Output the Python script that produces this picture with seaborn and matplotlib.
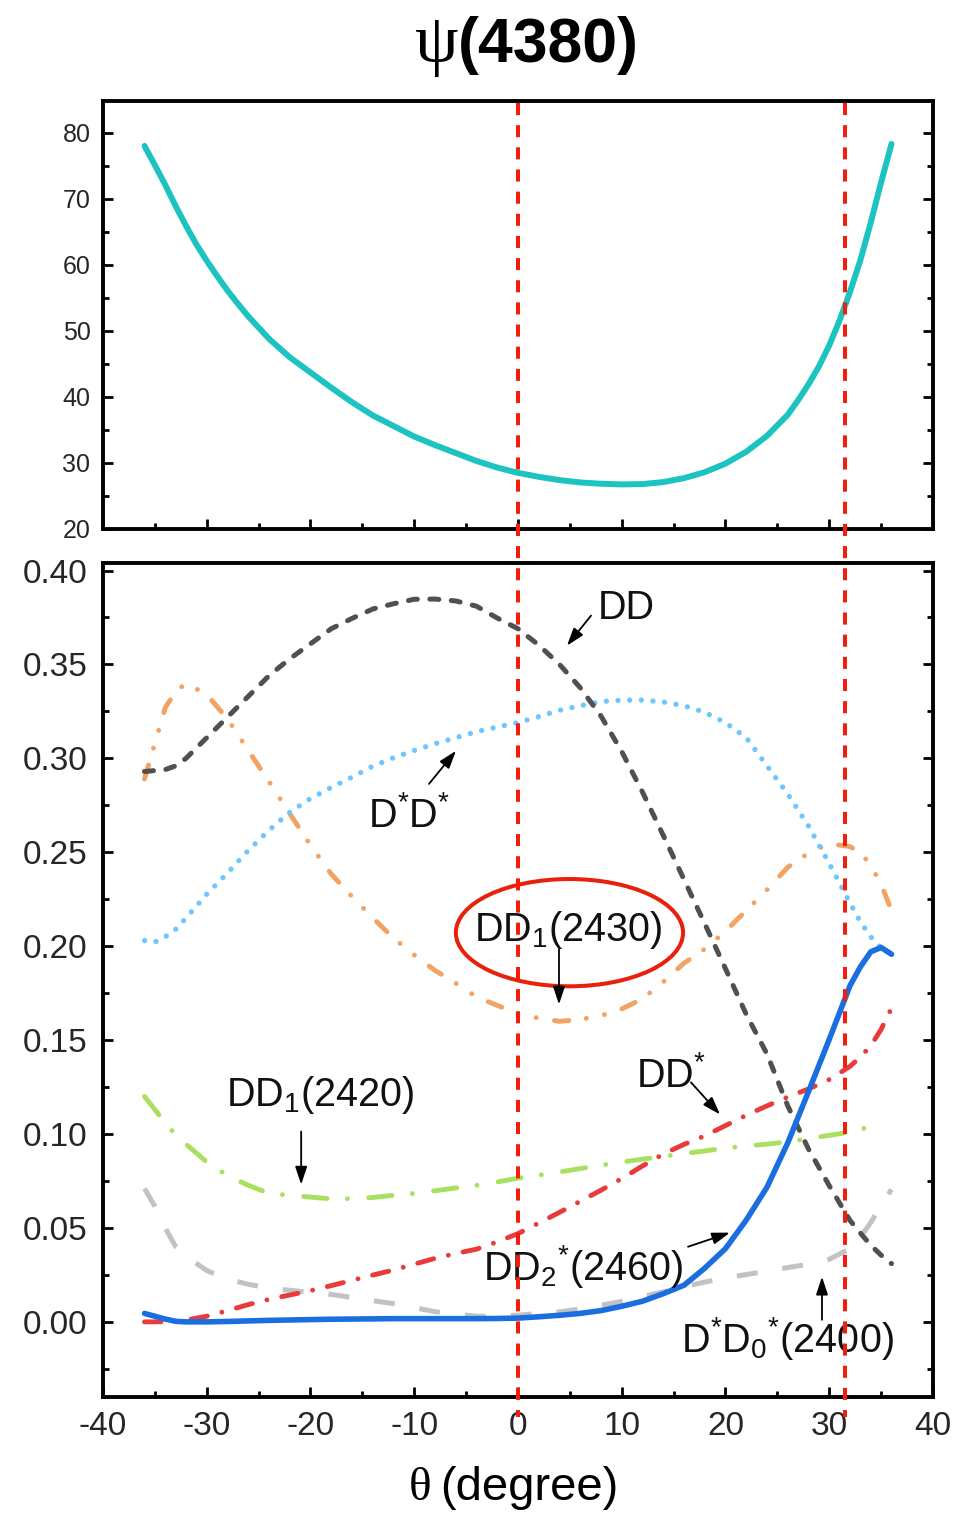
import numpy as np
import pandas as pd
import matplotlib
matplotlib.use("Agg")
import matplotlib.pyplot as plt
import seaborn as sns
from matplotlib.lines import Line2D
from matplotlib.patches import Ellipse
from matplotlib import transforms
from matplotlib.ticker import MultipleLocator, FormatStrFormatter

# ---------------- data ----------------
theta_top = [-36, -35, -34, -33, -32, -31, -30, -29, -28, -27, -26, -24, -22, -20, -18,
             -16, -14, -12, -10, -8, -6, -4, -2, 0, 2, 4, 6, 8, 10, 12, 14, 16, 18, 20,
             22, 24, 26, 27, 28, 29, 30, 31, 32, 33, 34, 35, 36]
top_curve = [78.0, 75.1, 72.1, 68.9, 65.9, 63.1, 60.6, 58.3, 56.1, 54.1, 52.2, 48.8,
             46.0, 43.7, 41.4, 39.2, 37.2, 35.6, 34.0, 32.7, 31.5, 30.3, 29.3, 28.5,
             27.9, 27.4, 27.05, 26.85, 26.75, 26.8, 27.1, 27.7, 28.6, 29.9, 31.7, 34.1,
             37.3, 39.5, 41.9, 44.6, 47.8, 51.6, 55.9, 60.7, 66.4, 72.5, 78.3]

theta = [-36, -35, -34, -33, -32, -30, -28, -26, -24, -22, -20, -18, -16, -14, -12,
         -10, -8, -6, -4, -2, 0, 2, 4, 6, 8, 10, 12, 14, 16, 18, 20, 22, 24, 26, 28,
         30, 32, 33, 34, 35, 36]

br_DD = [0.293, 0.2935, 0.294, 0.296, 0.300, 0.311, 0.322, 0.333, 0.344, 0.353, 0.361,
         0.369, 0.3745, 0.3795, 0.3823, 0.3847, 0.3848, 0.3838, 0.381, 0.3747, 0.369,
         0.3603, 0.350, 0.3376, 0.3225, 0.3036, 0.282, 0.259, 0.2355, 0.212, 0.188,
         0.1637, 0.1426, 0.115, 0.092, 0.0725, 0.054, 0.0473, 0.0408, 0.0355, 0.031]

br_DsDs = [0.203, 0.2022, 0.205, 0.209, 0.215, 0.2277, 0.239, 0.251, 0.2617, 0.2713,
           0.2786, 0.2845, 0.290, 0.2958, 0.3003, 0.3042, 0.3078, 0.311, 0.3142, 0.3167,
           0.319, 0.3222, 0.3256, 0.328, 0.3302, 0.331, 0.331, 0.330, 0.328, 0.3245, 0.319,
           0.311, 0.296, 0.281, 0.264, 0.244, 0.223, 0.213, 0.205, 0.199, 0.196]

br_DD1_2430 = [0.289, 0.308, 0.327, 0.3355, 0.340, 0.334, 0.321, 0.3042, 0.2876, 0.2706,
               0.2537, 0.2384, 0.2264, 0.2151, 0.2043, 0.1953, 0.1871, 0.1803, 0.173,
               0.1685, 0.164, 0.1617, 0.160, 0.161, 0.163, 0.1666, 0.172, 0.181, 0.191,
               0.1985, 0.208, 0.219, 0.230, 0.242, 0.2496, 0.2546, 0.253, 0.250, 0.243,
               0.233, 0.219]

br_DD1_2420 = [0.120, 0.113, 0.106, 0.0995, 0.0946, 0.0851, 0.0779, 0.0727, 0.0684,
               0.0674, 0.0664, 0.0655, 0.0656, 0.0662, 0.0674, 0.0684, 0.0698, 0.0713,
               0.0727, 0.0745, 0.0765, 0.0781, 0.0798, 0.0816, 0.0834, 0.0851, 0.0866,
               0.0881, 0.0896, 0.091, 0.0925, 0.0936, 0.0946, 0.0959, 0.0976, 0.0993,
               0.1010, 0.1025, 0.104, 0.1054, np.nan]

br_DDs = [0.000, 0.000, 0.0001, 0.0003, 0.001, 0.003, 0.006, 0.0092, 0.012, 0.0143,
          0.0166, 0.0193, 0.0221, 0.0249, 0.0276, 0.0307, 0.0338, 0.0364, 0.0387, 0.0426,
          0.047, 0.0526, 0.0583, 0.0642, 0.0701, 0.0763, 0.083, 0.0893, 0.0945, 0.099,
          0.1045, 0.110, 0.115, 0.1197, 0.124, 0.129, 0.136, 0.141, 0.147, 0.1557, 0.167]

br_DsD0s = [0.071, 0.0615, 0.050, 0.040, 0.035, 0.0273, 0.0228, 0.020, 0.018, 0.0168,
            0.0157, 0.0146, 0.013, 0.0113, 0.0097, 0.0076, 0.0054, 0.0042, 0.003, 0.003,
            0.0036, 0.0045, 0.0053, 0.0069, 0.0088, 0.0109, 0.0135, 0.016, 0.0187,
            0.0212, 0.0234, 0.0252, 0.027, 0.0289, 0.0307, 0.0333, 0.039, 0.045, 0.0529,
            0.062, 0.0705]

br_DD2s = [0.0045, 0.003, 0.0015, 0.0003, 0.0, 0.0, 0.0002, 0.0005, 0.0008, 0.001,
           0.0012, 0.0014, 0.0015, 0.0016, 0.0017, 0.0017, 0.0017, 0.0017, 0.0017, 0.0018,
           0.002, 0.0027, 0.0035, 0.0045, 0.006, 0.0083, 0.011, 0.015, 0.0195, 0.0286,
           0.039, 0.0542, 0.0717, 0.0953, 0.1226, 0.1504, 0.179, 0.189, 0.197, 0.1993,
           0.1957]

boundaries = [0.0, 31.5]          # red dashed vertical lines
title_psi = "ψ"
title_rest = "(4380)"
xlabel_sym = "θ"
xlabel_rest = "(degree)"

top_yticks = [20, 30, 40, 50, 60, 70, 80]
bot_yticks = [0.00, 0.05, 0.10, 0.15, 0.20, 0.25, 0.30, 0.35, 0.40]
xticks = [-40, -30, -20, -10, 0, 10, 20, 30, 40]

# ---------------- style ----------------
sns.set_theme(style="ticks")
plt.rcParams["font.family"] = ["Liberation Sans", "DejaVu Sans"]
plt.rcParams["axes.unicode_minus"] = False
plt.rcParams["mathtext.fontset"] = "custom"
plt.rcParams["mathtext.rm"] = "Liberation Sans"
plt.rcParams["mathtext.it"] = "Liberation Sans:italic"
plt.rcParams["mathtext.bf"] = "Liberation Sans:bold"

W, H = 954, 1513
fig = plt.figure(figsize=(W / 100, H / 100), dpi=100)
ax1 = fig.add_axes([103 / W, 1 - 529 / H, 830 / W, 428 / H])
ax2 = fig.add_axes([103 / W, 1 - 1397 / H, 830 / W, 834 / H])


def draw(ax, x, y, color, lw, dashes=None, cap="butt", z=3):
    df = pd.DataFrame({"theta": x, "val": y}).dropna()
    sns.lineplot(data=df, x="theta", y="val", ax=ax, color=color, linewidth=lw,
                 estimator=None, sort=False, legend=False, zorder=z)
    line = ax.lines[-1]
    line.set_linewidth(lw)
    if dashes is not None:
        line.set_dashes(dashes)
    line.set_dash_capstyle(cap)
    line.set_solid_capstyle("round")
    line.set_solid_joinstyle("round")
    return line


# top panel
draw(ax1, theta_top, top_curve, "#1CC3C0", 4.3)

# bottom panel
draw(ax2, theta, br_DsD0s, "#C2C2C2", 3.6, dashes=(4.2, 5.0), cap="butt")
draw(ax2, theta, br_DD1_2420, "#A9E060", 3.5, dashes=(4.8, 4.2, 0.01, 4.4), cap="round")
draw(ax2, theta, br_DDs, "#EA3B3B", 3.5, dashes=(3.4, 3.1, 0.01, 3.1), cap="round")
draw(ax2, theta, br_DD1_2430, "#F2A263", 3.5,
     dashes=(3.0, 3.6, 0.01, 3.8, 0.01, 3.8), cap="round")
draw(ax2, theta, br_DsDs, "#6EC6FF", 3.8, dashes=(0.01, 2.2), cap="round")
draw(ax2, theta, br_DD, "#505050", 3.6, dashes=(1.8, 2.5), cap="round")
draw(ax2, theta, br_DD2s, "#1A6EE0", 4.0, z=4)

# axes formatting
for ax in (ax1, ax2):
    ax.set_xlim(-40, 40)
    ax.set_xlabel("")
    ax.set_ylabel("")
    for sp in ax.spines.values():
        sp.set_linewidth(2.8)
        sp.set_color("black")
        sp.set_visible(True)
    ax.tick_params(axis="both", which="both", direction="in", top=False, right=True,
                   color="black", width=2.0)
    ax.tick_params(axis="both", which="major", length=7)
    ax.tick_params(axis="both", which="minor", length=4)
    ax.xaxis.set_minor_locator(MultipleLocator(5))
    ax.grid(False)

ax1.set_ylim(20, 84.8)
ax1.set_yticks(top_yticks)
ax1.yaxis.set_minor_locator(MultipleLocator(5))
ax1.set_xticks(xticks)
ax1.tick_params(axis="x", labelbottom=False)
ax1.tick_params(axis="y", labelsize=18, pad=9)

ax2.set_ylim(-0.04, 0.404)
ax2.set_yticks(bot_yticks)
ax2.yaxis.set_minor_locator(MultipleLocator(0.025))
ax2.yaxis.set_major_formatter(FormatStrFormatter("%.2f"))
ax2.set_xticks(xticks)
ax2.tick_params(axis="both", labelsize=24)
ax2.tick_params(axis="y", pad=11)
ax2.tick_params(axis="x", pad=10)

# red vertical boundary lines across both panels
trans = transforms.blended_transform_factory(ax2.transData, fig.transFigure)
for b in boundaries:
    fig.add_artist(Line2D([b, b], [1 - 103 / H, 1 - 1417 / H], transform=trans,
                          color="#F01E0A", lw=2.9, dashes=(3.0, 2.5), zorder=5))

# red ellipse highlight
ax2.add_patch(Ellipse((4.96, 0.2072), 21.9, 0.0571, fill=False, edgecolor="#E8200C",
                      lw=2.9, zorder=6))

# annotations
fs = 28.5
arrow_kw = dict(arrowstyle="-|>,head_length=0.6,head_width=0.2", color="black", lw=1.3,
                mutation_scale=18, shrinkA=0, shrinkB=0)
labels = [
    ("DD", 7.7, 0.3744, (7.04, 0.376), (4.72, 0.360)),
    (r"D$^{*}$D$^{*}$", -14.45, 0.2635, (-8.58, 0.2864), (-5.98, 0.304)),
    (r"DD$_{1}$(2430)", -4.24, 0.2028, (3.95, 0.1984), (3.95, 0.169)),
    (r"DD$^{*}$", 11.37, 0.1253, (16.67, 0.1275), (19.47, 0.1104)),
    (r"DD$_{1}$(2420)", -28.14, 0.1148, (-20.9, 0.1013), (-20.9, 0.0731)),
    (r"DD$_{2}{}^{*}$(2460)", -3.37, 0.0224, (16.39, 0.040), (20.43, 0.0475)),
    (r"D$^{*}$D$_{0}{}^{*}$(2400)", 15.71, -0.0158, (29.3, 0.0011), (29.3, 0.024)),
]
for txt, tx, ty, tail, tip in labels:
    ax2.text(tx, ty, txt, fontsize=fs, ha="left", va="baseline", color="#111111", zorder=7)
    ax2.annotate("", xy=tip, xytext=tail, arrowprops=arrow_kw, zorder=7)

# title
base_title = 1 - 62 / H
split_x = 458 / W
fig.text(split_x, base_title, title_psi, family=["Liberation Serif", "DejaVu Serif"],
         fontsize=50, ha="right", va="baseline", color="black")
fig.text(split_x, base_title, title_rest, family="Liberation Sans",
         fontweight="bold", fontsize=45, ha="left", va="baseline", color="black")

# x label
base_xl = 1 - 1500 / H
fig.text(431 / W, base_xl, xlabel_sym, family=["Liberation Serif", "DejaVu Serif"],
         fontsize=34, ha="right", va="baseline", color="black")
fig.text(440 / W, base_xl, xlabel_rest, family="Liberation Sans", fontsize=34,
         ha="left", va="baseline", color="black")

fig.savefig("out.png", dpi=100)
